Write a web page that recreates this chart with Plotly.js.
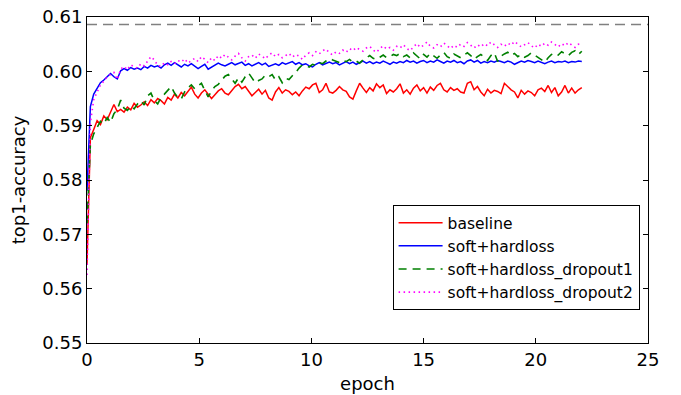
<!DOCTYPE html>
<html>
<head>
<meta charset="utf-8">
<script src="https://cdn.plot.ly/plotly-3.0.1.min.js"></script>
<style>html,body{margin:0;padding:0;background:#fff;}#chart{width:681px;height:395px;}</style>
</head>
<body>
<div id="chart"></div>
<script>
// epochs: start 0, step 0.15
const epochStart = 0;
const epochStep = 0.15;
const seriesNames = ["baseline", "soft+hardloss", "soft+hardloss_dropout1", "soft+hardloss_dropout2"];
const teacherAcc = 0.6086;
const xTicks = [0, 5, 10, 15, 20, 25];
const yTicks = [0.55, 0.56, 0.57, 0.58, 0.59, 0.60, 0.61];

const baseline = [
0.5645,0.5878,0.5893,0.5909,0.5902,0.5918,0.5911,0.5924,0.5939,0.5926,
0.5930,0.5925,0.5934,0.5929,0.5941,0.5934,0.5938,0.5944,0.5937,0.5948,
0.5942,0.5950,0.5946,0.5940,0.5952,0.5947,0.5958,0.5951,0.5961,0.5955,
0.5963,0.5971,0.5958,0.5951,0.5960,0.5966,0.5958,0.5950,0.5957,0.5964,
0.5968,0.5960,0.5957,0.5965,0.5972,0.5976,0.5968,0.5972,0.5963,0.5955,
0.5961,0.5967,0.5958,0.5965,0.5951,0.5947,0.5962,0.5970,0.5960,0.5966,
0.5963,0.5957,0.5962,0.5955,0.5964,0.5971,0.5968,0.5975,0.5978,0.5961,
0.5966,0.5978,0.5962,0.5960,0.5965,0.5972,0.5966,0.5963,0.5953,0.5949,
0.5964,0.5978,0.5969,0.5961,0.5970,0.5964,0.5977,0.5970,0.5975,0.5959,
0.5966,0.5962,0.5968,0.5977,0.5960,0.5966,0.5958,0.5969,0.5975,0.5964,
0.5970,0.5960,0.5971,0.5965,0.5974,0.5978,0.5966,0.5962,0.5970,0.5965,
0.5968,0.5962,0.5960,0.5978,0.5981,0.5966,0.5972,0.5962,0.5955,0.5967,
0.5960,0.5965,0.5963,0.5959,0.5978,0.5971,0.5966,0.5962,0.5951,0.5965,
0.5958,0.5964,0.5961,0.5955,0.5966,0.5969,0.5963,0.5974,0.5961,0.5970,
0.5955,0.5962,0.5974,0.5960,0.5969,0.5960,0.5966,0.5970];

const softHard = [
0.5780,0.5935,0.5958,0.5970,0.5979,0.5984,0.5991,0.5996,0.5990,0.5986,
0.6001,0.6005,0.6002,0.6007,0.6004,0.6006,0.6003,0.6009,0.6006,0.6011,
0.6008,0.6010,0.6006,0.6012,0.6015,0.6011,0.6016,0.6012,0.6008,0.6013,
0.6010,0.6014,0.6010,0.6005,0.6009,0.6013,0.6004,0.6008,0.6011,0.6015,
0.6012,0.6010,0.6013,0.6016,0.6012,0.6014,0.6017,0.6011,0.6014,0.6010,
0.6013,0.6016,0.6012,0.6015,0.6009,0.6012,0.6014,0.6011,0.6016,0.6013,
0.6015,0.6018,0.6013,0.6016,0.6012,0.6014,0.6010,0.6008,0.6013,0.6016,
0.6012,0.6015,0.6017,0.6014,0.6016,0.6012,0.6015,0.6018,0.6014,0.6017,
0.6013,0.6016,0.6019,0.6015,0.6018,0.6014,0.6017,0.6015,0.6019,0.6016,
0.6013,0.6017,0.6015,0.6018,0.6016,0.6020,0.6017,0.6019,0.6015,0.6018,
0.6020,0.6016,0.6019,0.6017,0.6021,0.6018,0.6015,0.6019,0.6017,0.6020,
0.6016,0.6018,0.6014,0.6019,0.6021,0.6017,0.6020,0.6015,0.6018,0.6016,
0.6019,0.6017,0.6020,0.6018,0.6016,0.6019,0.6017,0.6013,0.6016,0.6019,
0.6017,0.6020,0.6018,0.6016,0.6019,0.6017,0.6014,0.6017,0.6019,0.6016,
0.6018,0.6017,0.6019,0.6016,0.6018,0.6017,0.6019,0.6018];

const dropout1 = [
0.5720,0.5865,0.5885,0.5898,0.5908,0.5903,0.5915,0.5906,0.5922,0.5930,
0.5947,0.5932,0.5928,0.5936,0.5931,0.5940,0.5946,0.5938,0.5955,0.5960,
0.5946,0.5940,0.5952,0.5958,0.5965,0.5972,0.5960,0.5952,0.5949,0.5962,
0.5970,0.5975,0.5968,0.5973,0.5978,0.5965,0.5953,0.5964,0.5972,0.5976,
0.5983,0.5991,0.5994,0.5985,0.5978,0.5988,0.5980,0.5990,0.5997,0.5988,
0.5979,0.5983,0.5986,0.5993,0.5990,0.5994,0.5984,0.5990,0.5979,0.5987,
0.5985,0.5992,0.5998,0.6006,0.6012,0.6010,0.6008,0.6013,0.6011,0.6016,
0.6014,0.6019,0.6023,0.6021,0.6018,0.6016,0.6020,0.6018,0.6022,0.6017,
0.6019,0.6015,0.6021,0.6025,0.6029,0.6024,0.6022,0.6026,0.6030,0.6025,
0.6027,0.6031,0.6029,0.6033,0.6027,0.6030,0.6025,0.6034,0.6028,0.6023,
0.6031,0.6026,0.6033,0.6028,0.6024,0.6030,0.6035,0.6027,0.6024,0.6032,
0.6028,0.6025,0.6030,0.6034,0.6029,0.6022,0.6027,0.6031,0.6026,0.6020,
0.6029,0.6034,0.6018,0.6028,0.6032,0.6035,0.6029,0.6033,0.6027,0.6031,
0.6026,0.6029,0.6034,0.6030,0.6026,0.6021,0.6017,0.6025,0.6031,0.6034,
0.6030,0.6036,0.6032,0.6029,0.6035,0.6038,0.6031,0.6037];

const dropout2 = [
0.5625,0.5905,0.5948,0.5963,0.5975,0.5982,0.5990,0.5994,0.5998,0.5985,
0.6004,0.6009,0.6003,0.6012,0.6008,0.6006,0.6014,0.6010,0.6019,0.6027,
0.6021,0.6011,0.6009,0.6016,0.6012,0.6018,0.6014,0.6020,0.6017,0.6023,
0.6015,0.6019,0.6024,0.6018,0.6027,0.6022,0.6016,0.6025,0.6020,0.6029,
0.6024,0.6031,0.6026,0.6021,0.6028,0.6033,0.6025,0.6019,0.6027,0.6030,
0.6024,0.6032,0.6028,0.6023,0.6030,0.6034,0.6027,0.6031,0.6025,0.6029,
0.6033,0.6026,0.6031,0.6028,0.6022,0.6030,0.6034,0.6029,0.6036,0.6032,
0.6038,0.6041,0.6034,0.6030,0.6036,0.6033,0.6039,0.6035,0.6042,0.6038,
0.6044,0.6040,0.6037,0.6043,0.6046,0.6039,0.6035,0.6042,0.6047,0.6041,
0.6044,0.6039,0.6046,0.6043,0.6049,0.6042,0.6038,0.6045,0.6051,0.6044,
0.6048,0.6054,0.6046,0.6043,0.6049,0.6045,0.6052,0.6047,0.6042,0.6048,
0.6044,0.6050,0.6046,0.6053,0.6048,0.6043,0.6049,0.6045,0.6051,0.6047,
0.6054,0.6049,0.6044,0.6050,0.6046,0.6052,0.6048,0.6055,0.6050,0.6045,
0.6049,0.6053,0.6047,0.6043,0.6050,0.6046,0.6052,0.6048,0.6054,0.6049,
0.6045,0.6051,0.6047,0.6053,0.6049,0.6044,0.6050,0.6048];

const seriesValues = [baseline, softHard, dropout1, dropout2];
const colors = ["#ff0000", "#0000ff", "#008000", "#ff00ff"];
const dashes = ["solid", "solid", "8px,6px", "1.5px,3.5px"];
const widths = [1.5, 1.5, 1.6, 1.6];

const traces = seriesValues.map((vals, i) => ({
  type: "scatter", mode: "lines",
  name: seriesNames[i],
  x0: epochStart, dx: epochStep, y: vals,
  line: {color: colors[i], width: widths[i], dash: dashes[i]}
}));

const font = "DejaVu Sans, sans-serif";
const layout = {
  width: 681, height: 395,
  margin: {l: 87, r: 32.5, t: 17.3, b: 52.3, pad: 0},
  paper_bgcolor: "#fff", plot_bgcolor: "#fff",
  font: {family: font, color: "#000", size: 18},
  showlegend: true,
  legend: {
    x: 0.985, y: 0.423, xanchor: "right", yanchor: "top",
    bgcolor: "#fff", bordercolor: "#000", borderwidth: 1,
    font: {family: font, size: 15.5, color: "#000"},
    itemwidth: 44,
    tracegroupgap: 0
  },
  xaxis: {
    range: [0, 25], tickvals: xTicks, ticktext: xTicks.map(String),
    ticks: "inside", ticklen: 5, tickwidth: 1, tickcolor: "#000",
    showline: true, linecolor: "#000", linewidth: 1, mirror: "allticks",
    showgrid: false, zeroline: false,
    tickfont: {family: font, size: 18},
    title: {text: "epoch", font: {family: font, size: 18}, standoff: 8}
  },
  yaxis: {
    range: [0.55, 0.61], tickvals: yTicks, ticktext: yTicks.map(v => v.toFixed(2)),
    ticks: "inside", ticklen: 5, tickwidth: 1, tickcolor: "#000",
    showline: true, linecolor: "#000", linewidth: 1, mirror: "allticks",
    showgrid: false, zeroline: false,
    tickfont: {family: font, size: 18},
    title: {text: "top1-accuracy", font: {family: font, size: 18}, standoff: 12}
  },
  shapes: [{
    type: "line", xref: "paper", x0: 0, x1: 1, yref: "y", y0: teacherAcc, y1: teacherAcc,
    line: {color: "#808080", width: 1.5, dash: "10px,6px"}
  }]
};

Plotly.newPlot("chart", traces, layout, {displayModeBar: false, staticPlot: true});
</script>
</body>
</html>
